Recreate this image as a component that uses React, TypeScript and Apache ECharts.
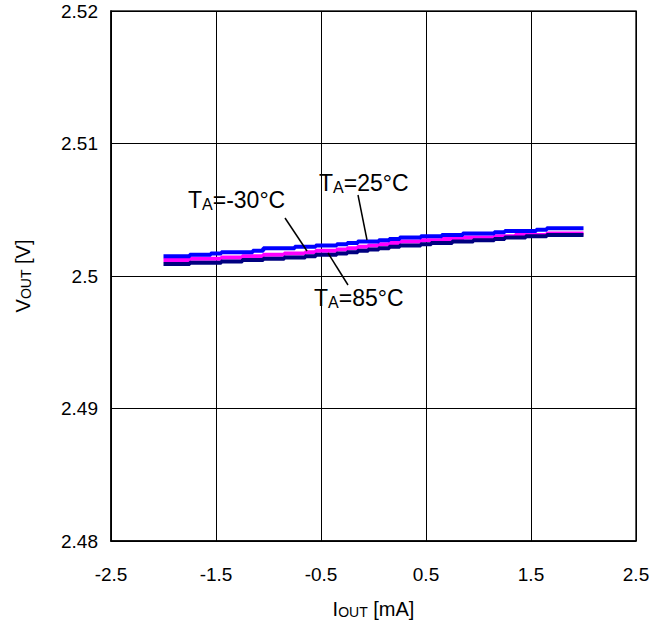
import React, { useEffect, useRef } from "react";
import * as echarts from "echarts";

const currents = [
  -2.0, -1.9, -1.8, -1.7, -1.6, -1.5, -1.4, -1.3, -1.2, -1.1, -1.0, -0.9, -0.8, -0.7, -0.6, -0.5, -0.4, -0.3, -0.2, -0.1,
  0.0, 0.1, 0.2, 0.3, 0.4, 0.5, 0.6, 0.7, 0.8, 0.9, 1.0, 1.1, 1.2, 1.3, 1.4, 1.5, 1.6, 1.7, 1.8, 1.9, 2.0,
];

const vout25 = [
  2.5015, 2.5015, 2.5015, 2.5016, 2.5016, 2.5017, 2.5018, 2.5018, 2.5018, 2.5019, 2.5021, 2.5021, 2.5021, 2.5022, 2.5022,
  2.5023, 2.5023, 2.5024, 2.5025, 2.5026, 2.5026, 2.5027, 2.5028, 2.5029, 2.5029, 2.503, 2.503, 2.5031, 2.5031, 2.5032,
  2.5032, 2.5032, 2.5033, 2.5034, 2.5034, 2.5034, 2.5035, 2.5036, 2.5036, 2.5036, 2.5036,
];

const voutM30 = [
  2.5012, 2.5012, 2.5012, 2.5013, 2.5013, 2.5013, 2.5014, 2.5014, 2.5015, 2.5015, 2.5016, 2.5016, 2.5017, 2.5017, 2.5018,
  2.5019, 2.5019, 2.502, 2.5021, 2.5022, 2.5023, 2.5024, 2.5025, 2.5026, 2.5026, 2.5027, 2.5027, 2.5028, 2.5028, 2.5029,
  2.5029, 2.5029, 2.503, 2.503, 2.5031, 2.5031, 2.5031, 2.5032, 2.5032, 2.5032, 2.5032,
];

const vout85 = [
  2.5009, 2.5009, 2.5009, 2.501, 2.501, 2.501, 2.5011, 2.5011, 2.5012, 2.5012, 2.5013, 2.5013, 2.5014, 2.5014, 2.5015,
  2.5016, 2.5016, 2.5017, 2.5018, 2.5019, 2.502, 2.5021, 2.5022, 2.5023, 2.5023, 2.5024, 2.5025, 2.5025, 2.5026, 2.5026,
  2.5027, 2.5027, 2.5028, 2.5029, 2.5029, 2.503, 2.503, 2.5031, 2.5031, 2.5031, 2.5031,
];

const xTicks = ["-2.5", "-1.5", "-0.5", "0.5", "1.5", "2.5"];
const yTicks = ["2.48", "2.49", "2.5", "2.51", "2.52"];

const FONT = "'Liberation Sans', Arial, sans-serif";

const pair = (ys: number[]) => currents.map((x, i) => [x, ys[i]]);

const labelRich = {
  m: { fontSize: 23, fontFamily: FONT, color: "#000" },
  s: { fontSize: 16, fontFamily: FONT, color: "#000", padding: [9, 0, 0, 0] },
};

const titleRich = {
  m: { fontSize: 20, fontFamily: FONT, color: "#000" },
  s: { fontSize: 14, fontFamily: FONT, color: "#000", padding: [6, 0, 0, 0] },
};

export default function App() {
  const ref = useRef<HTMLDivElement>(null);
  useEffect(() => {
    if (!ref.current) return;
    const chart = echarts.init(ref.current, null, { renderer: "svg" });
    chart.setOption({
      animation: false,
      backgroundColor: "#fff",
      grid: { left: 111, top: 11, width: 525, height: 530, show: true, borderColor: "#222", borderWidth: 1.5 },
      xAxis: {
        type: "value",
        min: -2.5,
        max: 2.5,
        interval: 1,
        axisLine: { show: true, onZero: false, lineStyle: { color: "#000", width: 1.5 } },
        axisTick: { show: false },
        splitLine: { show: true, lineStyle: { color: "#000", width: 1 } },
        axisLabel: {
          fontFamily: FONT,
          fontSize: 19,
          color: "#000",
          margin: 24,
          formatter: (v: number) => {
            const idx = Math.round(v + 2.5);
            return xTicks[idx] ?? "";
          },
        },
        name: "{m|I}{s|OUT}{m| [mA]}",
        nameLocation: "middle",
        nameGap: 58,
        nameTextStyle: { rich: titleRich },
      },
      yAxis: {
        type: "value",
        min: 2.48,
        max: 2.52,
        interval: 0.01,
        axisLine: { show: true, onZero: false, lineStyle: { color: "#000", width: 1.5 } },
        axisTick: { show: false },
        splitLine: { show: true, lineStyle: { color: "#000", width: 1 } },
        axisLabel: {
          fontFamily: FONT,
          fontSize: 19,
          color: "#000",
          margin: 13,
          formatter: (v: number) => {
            const idx = Math.round((v - 2.48) / 0.01);
            return yTicks[idx] ?? "";
          },
        },
        name: "{m|V}{s|OUT}{m| [V]}",
        nameLocation: "middle",
        nameGap: 78,
        nameTextStyle: { rich: titleRich },
      },
      series: [
        {
          name: "TA=-30°C",
          type: "line",
          step: "middle",
          showSymbol: false,
          data: pair(voutM30),
          lineStyle: { color: "#ff00ff", width: 4 },
          itemStyle: { color: "#ff00ff" },
          z: 2,
        },
        {
          name: "TA=85°C",
          type: "line",
          step: "middle",
          showSymbol: false,
          data: pair(vout85),
          lineStyle: { color: "#000080", width: 4 },
          itemStyle: { color: "#000080" },
          z: 3,
        },
        {
          name: "TA=25°C",
          type: "line",
          step: "middle",
          showSymbol: false,
          data: pair(vout25),
          lineStyle: { color: "#0000ff", width: 4 },
          itemStyle: { color: "#0000ff" },
          z: 4,
        },
      ],
      graphic: [
        {
          type: "text",
          left: 188,
          top: 188,
          z: 10,
          style: { text: "{m|T}{s|A}{m|=-30°C}", rich: labelRich, fill: "#000" },
        },
        {
          type: "text",
          left: 319,
          top: 171,
          z: 10,
          style: { text: "{m|T}{s|A}{m|=25°C}", rich: labelRich, fill: "#000" },
        },
        {
          type: "text",
          left: 314,
          top: 286,
          z: 10,
          style: { text: "{m|T}{s|A}{m|=85°C}", rich: labelRich, fill: "#000" },
        },
        { type: "line", z: 10, shape: { x1: 285, y1: 218, x2: 307, y2: 251 }, style: { stroke: "#000", lineWidth: 1.5 } },
        { type: "line", z: 10, shape: { x1: 358, y1: 195, x2: 367, y2: 240 }, style: { stroke: "#000", lineWidth: 1.5 } },
        { type: "line", z: 10, shape: { x1: 328, y1: 253, x2: 348, y2: 285 }, style: { stroke: "#000", lineWidth: 1.5 } },
      ],
    });
    return () => chart.dispose();
  }, []);
  return <div ref={ref} style={{ position: "absolute", left: 0, top: 0, width: 670, height: 629 }} />;
}
